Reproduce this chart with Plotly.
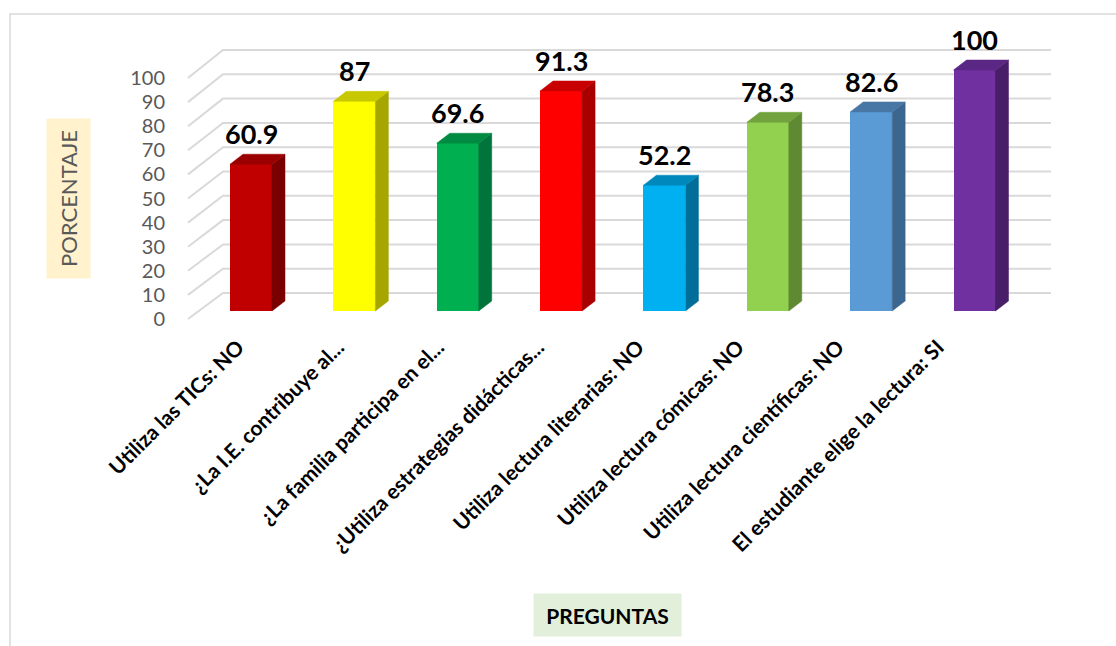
import plotly.graph_objects as go

# ---------------- data ----------------
categories = [
    "Utiliza las TICs: NO",
    "¿La I.E. contribuye al...",
    "¿La familia participa en el...",
    "¿Utiliza estrategias didácticas...",
    "Utiliza lectura literarias: NO",
    "Utiliza lectura cómicas: NO",
    "Utiliza lectura científicas: NO",
    "El estudiante elige la lectura: SI",
]
values = [60.9, 87, 69.6, 91.3, 52.2, 78.3, 82.6, 100]
value_labels = ["60.9", "87", "69.6", "91.3", "52.2", "78.3", "82.6", "100"]
y_ticks = [0, 10, 20, 30, 40, 50, 60, 70, 80, 90, 100]

front_colors = ["#C00000", "#FFFF00", "#00B050", "#FF0000", "#00B0F0", "#92D050", "#5B9BD5", "#7030A0"]
side_colors = ["#7A0000", "#A6A600", "#00743A", "#A80000", "#006E98", "#5F8A33", "#3B6690", "#481E68"]
top_colors = ["#9A0000", "#C8C800", "#008A42", "#C80000", "#0088BC", "#72A23E", "#4877A6", "#5A2784"]

# ---------------- geometry (pixels) ----------------
W, H = 1116, 646
L, R, T, B = 172, 1060, 10, 330          # plot area in pixels
PX_PER_UNIT = 2.41                       # vertical scale
BAR0_PX = 311                            # bar plane zero
FRONT0_PX = 319                          # front plane zero (tick labels)
BACK0_PX = 293                           # back wall zero
BACK_SCALE = 2.43
BAR_X0_PX, BAR_STEP_PX = 251, 103.36     # bar centers
LAB_X0_PX, LAB_STEP_PX = 238, 100.0      # category label anchors
BAR_W_PX = 42
DEPTH_DX_PX, DEPTH_DY_PX = 13, 10
WALL_L_PX, WALL_R_PX, FLOOR_L_PX = 223, 1051, 188

def bx(px):  # pixel -> bar axis units
    return (px - BAR_X0_PX) / BAR_STEP_PX

def by(py):  # pixel -> bar axis units
    return (BAR0_PX - py) / PX_PER_UNIT

def paper_x(px):
    return (px - L) / (R - L)

def paper_y(py):
    return (B - py) / (B - T)

n = len(values)
idx = list(range(n))
bw = BAR_W_PX / BAR_STEP_PX
ddx = DEPTH_DX_PX / BAR_STEP_PX
ddy = DEPTH_DY_PX / PX_PER_UNIT

fig = go.Figure()

# invisible trace on the label axis (x / y)
fig.add_trace(go.Scatter(x=categories, y=[None] * n, mode="markers", marker=dict(opacity=0),
                         xaxis="x", yaxis="y", hoverinfo="skip", showlegend=False))

# gridlines: back wall + diagonals to front plane (x2 / y2, below bars)
gx, gy = [], []
for t in y_ticks:
    yb = by(BACK0_PX - BACK_SCALE * t)
    yf = by(FRONT0_PX - PX_PER_UNIT * t)
    gx += [bx(FLOOR_L_PX), bx(WALL_L_PX), bx(WALL_R_PX), None]
    gy += [yf, yb, yb, None]
fig.add_trace(go.Scatter(x=gx, y=gy, mode="lines", line=dict(color="#D9D9D9", width=2),
                         xaxis="x2", yaxis="y2", hoverinfo="skip", showlegend=False))

# bar front faces (x3 / y3, above gridlines)
fig.add_trace(go.Bar(x=idx, y=values, width=bw, marker=dict(color=front_colors, line=dict(width=0)),
                     xaxis="x3", yaxis="y3", showlegend=False))

# side and top faces
for i, v in enumerate(values):
    xl, xr = i - bw / 2, i + bw / 2
    fig.add_trace(go.Scatter(
        x=[xr, xr + ddx, xr + ddx, xr, xr], y=[0, ddy, v + ddy, v, 0],
        fill="toself", fillcolor=side_colors[i], mode="lines", line=dict(width=0.5, color=side_colors[i]),
        xaxis="x3", yaxis="y3", hoverinfo="skip", showlegend=False))
    fig.add_trace(go.Scatter(
        x=[xl, xr, xr + ddx, xl + ddx, xl], y=[v, v, v + ddy, v + ddy, v],
        fill="toself", fillcolor=top_colors[i], mode="lines", line=dict(width=0.5, color=top_colors[i]),
        xaxis="x3", yaxis="y3", hoverinfo="skip", showlegend=False))

annotations = []
for i, v in enumerate(values):
    annotations.append(dict(x=i, y=v, xref="x3", yref="y3", text=value_labels[i], showarrow=False,
                            xanchor="center", yanchor="bottom", yshift=12,
                            font=dict(family="Lato", size=27, color="#000000", weight="bold")))

annotations.append(dict(x=paper_x(68.5), y=paper_y(198.5), xref="paper", yref="paper",
                        xanchor="center", yanchor="middle",
                        text="PORCENTAJE", textangle=-90, showarrow=False,
                        width=157, height=41, bgcolor="#FFF2CC",
                        font=dict(family="Lato", size=22, color="#595959")))
annotations.append(dict(x=paper_x(607.5), y=paper_y(615), xref="paper", yref="paper",
                        xanchor="center", yanchor="middle",
                        text="PREGUNTAS", showarrow=False, width=145, height=40, bgcolor="#E2EFDA",
                        font=dict(family="Lato", size=21, color="#000000", weight="bold")))

shapes = [dict(type="rect", xref="paper", yref="paper",
               x0=paper_x(10), x1=paper_x(W + 10), y0=paper_y(H + 10), y1=paper_y(14),
               line=dict(color="#D9D9D9", width=1.5), fillcolor="rgba(0,0,0,0)", layer="below")]

lab_lo = (L - LAB_X0_PX) / LAB_STEP_PX
lab_hi = (R - LAB_X0_PX) / LAB_STEP_PX

fig.update_layout(
    width=W, height=H,
    margin=dict(l=L, r=W - R, t=T, b=H - B, autoexpand=False),
    paper_bgcolor="white", plot_bgcolor="white",
    font=dict(family="Lato"),
    xaxis=dict(type="category", categoryorder="array", categoryarray=categories,
               range=[lab_lo, lab_hi], tickangle=-45, showgrid=False, zeroline=False,
               showline=False, ticks="", tickfont=dict(family="Lato", size=21, color="#000000", weight="bold")),
    xaxis2=dict(overlaying="x", range=[bx(L), bx(R)], visible=False),
    xaxis3=dict(overlaying="x", range=[bx(L), bx(R)], visible=False),
    yaxis=dict(range=[(FRONT0_PX - B) / PX_PER_UNIT, (FRONT0_PX - T) / PX_PER_UNIT],
               tickvals=y_ticks, showgrid=False, zeroline=False, showline=False, ticks="",
               ticklabelstandoff=6, tickfont=dict(family="Lato", size=20, color="#595959")),
    yaxis2=dict(overlaying="y", range=[by(B), by(T)], visible=False),
    yaxis3=dict(overlaying="y", range=[by(B), by(T)], visible=False),
    annotations=annotations, shapes=shapes,
    bargap=0,
)

fig.write_html("out.html", config={"displayModeBar": False},
               post_script="document.body.style.margin='0';document.body.style.overflow='hidden';")
